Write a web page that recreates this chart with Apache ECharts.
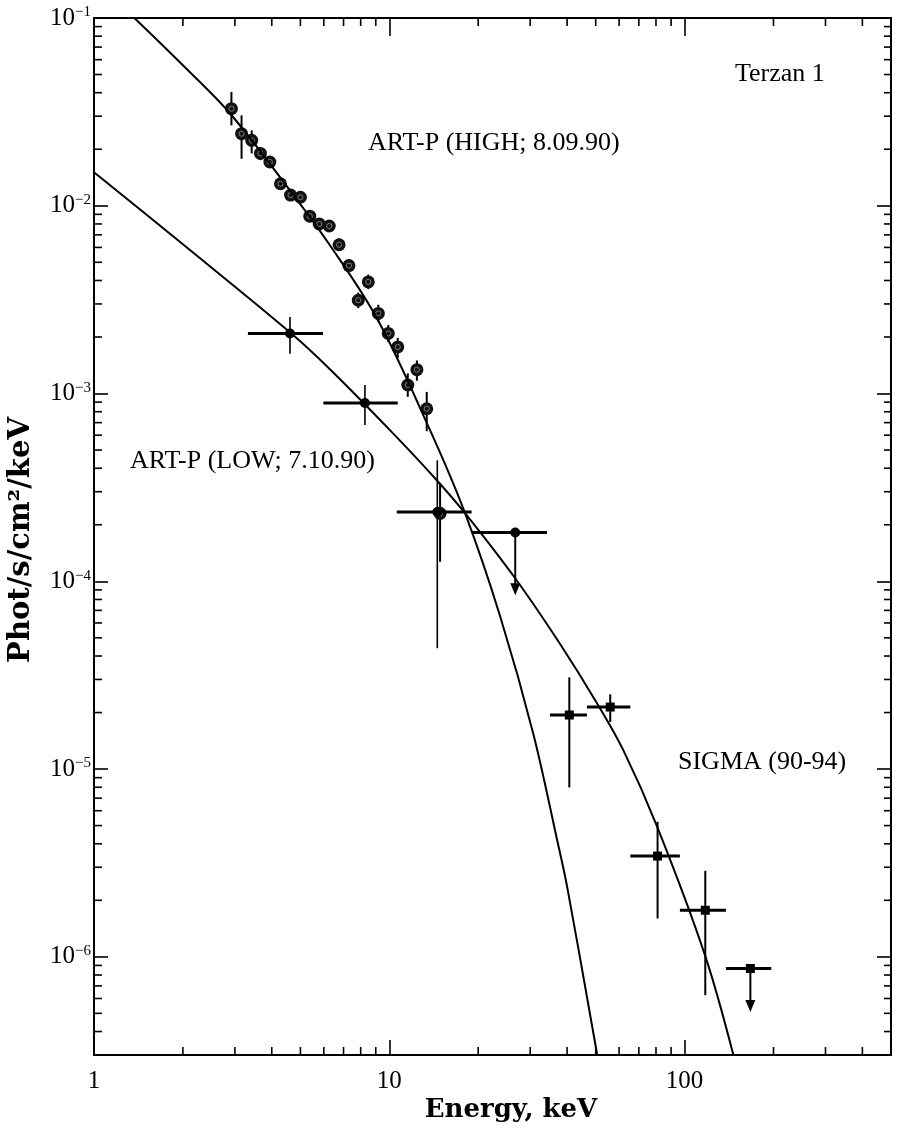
<!DOCTYPE html>
<html><head><meta charset="utf-8">
<script src="https://cdn.jsdelivr.net/npm/echarts@6/dist/echarts.min.js"></script>
<style>html,body{margin:0;padding:0;background:#fff}#c{width:900px;height:1140px}</style>
</head><body><div id="c"></div>
<script>
// ---- axis ranges ----
const xRange = [1, 500];
const yRange = [3e-7, 0.1];

// ---- ART-P HIGH (8.09.90) ----
const highE   = [2.92, 3.16, 3.42, 3.66, 3.94, 4.28, 4.63, 5.00, 5.38, 5.79, 6.26, 6.76, 7.30, 7.85, 8.49, 9.18, 9.92, 10.68, 12.4, 11.55, 13.39, 14.86];
const highF   = [0.0329, 0.0242, 0.0223, 0.0190, 0.0171, 0.0131, 0.0114, 0.0111, 0.0088, 0.0080, 0.0078, 0.0062, 0.0048, 0.00314, 0.00393, 0.00267, 0.00209, 0.00177, 0.00134, 0.00111, 0.00083, 0.00023];
const highFlo = [0.0268, 0.0178, 0.0190, 0.0175, 0.0160, 0.0123, 0.0107, 0.0104, 0.0083, 0.0075, 0.0073, 0.0058, 0.0045, 0.00285, 0.0036, 0.00240, 0.00188, 0.00155, 0.00117, 0.00096, 0.00063, 0.000127];
const highFhi = [0.0404, 0.0303, 0.0252, 0.0205, 0.0182, 0.0140, 0.0121, 0.0118, 0.0093, 0.0085, 0.0083, 0.0067, 0.0052, 0.00345, 0.0043, 0.00297, 0.00232, 0.00198, 0.00150, 0.00128, 0.00102, 0.000332];

// ---- ART-P LOW (7.10.90) ----
const lowE   = [4.61, 8.27, 14.54];
const lowF   = [0.00209, 0.00089, 0.000234];
const lowElo = [3.32, 5.98, 10.6];
const lowEhi = [5.96, 10.68, 19.0];
const lowFlo = [0.00163, 0.00068, 0.000044];
const lowFhi = [0.00256, 0.00111, 0.000441];
// upper limit: energy, flux, energy low, energy high, arrow end
const lowLimit = [26.7, 1.82e-4, 19.0, 34.2, 8.43e-5];

// ---- SIGMA (90-94) ----
const sigE   = [40.7, 56.0, 81.0, 117.5];
const sigF   = [1.94e-5, 2.14e-5, 3.44e-6, 1.77e-6];
const sigElo = [35.0, 46.7, 65.5, 96.4];
const sigEhi = [46.7, 65.5, 96.4, 138];
const sigFlo = [7.98e-6, 1.78e-5, 1.60e-6, 6.25e-7];
const sigFhi = [3.08e-5, 2.50e-5, 5.24e-6, 2.87e-6];
const sigLimit = [167, 8.67e-7, 138, 196.6, 5.08e-7];

// ---- model curves ----
const curveHighE = [1.37, 2.00, 2.884, 4.607, 6.295, 9.156, 13.74, 18.05, 23.73, 30.70, 37.03, 40.04, 50.6];
const curveHighF = [0.1, 0.0560, 0.0311, 0.01209, 0.00616, 0.002457, 6.38e-4, 2.305e-4, 6.52e-5, 1.553e-5, 4.18e-6, 2.35e-6, 3.0e-7];
const curveLowE  = [1.0, 2.0, 4.607, 6.295, 10.05, 14.48, 18.05, 26.98, 37.93, 50.5, 62.0, 80.6, 117.2, 146.3];
const curveLowF  = [0.01508, 0.006237, 0.00212, 0.001347, 6.38e-4, 3.454e-4, 2.305e-4, 1.013e-4, 4.62e-5, 2.243e-5, 1.261e-5, 4.965e-6, 1.021e-6, 3.0e-7];

// ---- labels ----
const annotations = [
  {text: 'Terzan 1', x: 735, y: 75},
  {text: 'ART-P (HIGH; 8.09.90)', x: 368, y: 144},
  {text: 'ART-P (LOW; 7.10.90)', x: 130, y: 462},
  {text: 'SIGMA (90-94)', x: 678, y: 763}
];
const xTitle = 'Energy, keV';
const yTitle = 'Phot/s/cm\u00b2/keV';

// minor tick values (2..9 per decade)
const xMinor = [], yMinor = [];
for (let d = 1; d <= 100; d *= 10) for (let m = 2; m <= 9; m++) { const v = m * d; if (v < xRange[1]) xMinor.push(v); }
for (let k = -7; k <= -2; k++) for (let m = 2; m <= 9; m++) { const v = m * Math.pow(10, k); if (v > yRange[0] && v < yRange[1]) yMinor.push(v); }

const SERIF = '"Liberation Serif", "Times New Roman", serif';
const DSERIF = '"DejaVu Serif", serif';

function pointRender(kind) {
  return function (params, api) {
    const E = api.value(0), F = api.value(1), Elo = api.value(2), Ehi = api.value(3), Flo = api.value(4), Fhi = api.value(5), lim = api.value(6);
    const c = api.coord([E, F]);
    const ch = [];
    const hw = kind === 'high' ? 0 : 3;
    if (kind !== 'high') {
      const a = api.coord([Elo, F]), b = api.coord([Ehi, F]);
      ch.push({type: 'line', shape: {x1: a[0], y1: a[1], x2: b[0], y2: b[1]}, style: {stroke: '#000', lineWidth: hw}});
    }
    if (lim) {
      const t = api.coord([E, Flo]);
      ch.push({type: 'line', shape: {x1: c[0], y1: c[1], x2: c[0], y2: t[1] - 10}, style: {stroke: '#000', lineWidth: 2}});
      ch.push({type: 'polygon', shape: {points: [[c[0] - 5, t[1] - 12], [c[0] + 5, t[1] - 12], [c[0], t[1]]]}, style: {fill: '#000'}});
    } else {
      const lo = api.coord([E, Flo]), hi = api.coord([E, Fhi]);
      const vw = kind === 'low' ? 1.6 : 2;
      ch.push({type: 'line', shape: {x1: lo[0], y1: lo[1], x2: hi[0], y2: hi[1]}, style: {stroke: '#000', lineWidth: vw}});
    }
    if (kind === 'high') {
      ch.push({type: 'circle', shape: {cx: c[0], cy: c[1], r: 6.5}, style: {fill: '#111'}});
      ch.push({type: 'circle', shape: {cx: c[0], cy: c[1], r: 2.6}, style: {fill: 'none', stroke: '#888', lineWidth: 0.9}});
    } else if (kind === 'low') {
      ch.push({type: 'circle', shape: {cx: c[0], cy: c[1], r: 5}, style: {fill: '#000'}});
    } else {
      ch.push({type: 'rect', shape: {x: c[0] - 4.5, y: c[1] - 4.5, width: 9, height: 9}, style: {fill: '#000'}});
    }
    return {type: 'group', children: ch};
  };
}

const highData = highE.map((e, i) => [e, highF[i], e, e, highFlo[i], highFhi[i], 0]);
const lowData = lowE.map((e, i) => [e, lowF[i], lowElo[i], lowEhi[i], lowFlo[i], lowFhi[i], 0]);
lowData.push([lowLimit[0], lowLimit[1], lowLimit[2], lowLimit[3], lowLimit[4], lowLimit[1], 1]);
const sigData = sigE.map((e, i) => [e, sigF[i], sigElo[i], sigEhi[i], sigFlo[i], sigFhi[i], 0]);
sigData.push([sigLimit[0], sigLimit[1], sigLimit[2], sigLimit[3], sigLimit[4], sigLimit[1], 1]);

const chart = echarts.init(document.getElementById('c'), null, {renderer: 'canvas'});

const axisLineStyle = {color: '#000', width: 2};
const tickStyle = {color: '#000', width: 1.6};

chart.setOption({
  backgroundColor: '#fff',
  animation: false,
  grid: {left: 94, right: 9, top: 18, bottom: 85, containLabel: false},
  xAxis: [
    {type: 'log', logBase: 10, min: xRange[0], max: xRange[1], position: 'bottom',
     axisLine: {lineStyle: axisLineStyle}, axisTick: {inside: true, length: 15, lineStyle: tickStyle},
     splitLine: {show: false},
     axisLabel: {showMaxLabel: false, margin: 14, color: '#000', fontFamily: SERIF, fontSize: 25,
       formatter: v => String(Math.round(v))}},
    {type: 'log', logBase: 10, min: xRange[0], max: xRange[1], position: 'top',
     axisLine: {lineStyle: axisLineStyle}, axisTick: {inside: true, length: 18, lineStyle: tickStyle},
     splitLine: {show: false}, axisLabel: {show: false}}
  ],
  yAxis: [
    {type: 'log', logBase: 10, min: yRange[0], max: yRange[1], position: 'left',
     axisLine: {lineStyle: axisLineStyle}, axisTick: {inside: true, length: 14, lineStyle: tickStyle},
     splitLine: {show: false},
     axisLabel: {showMinLabel: false, margin: 3, color: '#000',
       formatter: v => '{b|10}{s|\u2212' + (-Math.round(Math.log10(v))) + '}',
       rich: {b: {fontFamily: SERIF, fontSize: 25, color: '#000', lineHeight: 26},
              s: {fontFamily: SERIF, fontSize: 15, color: '#000', verticalAlign: 'top', lineHeight: 16}}}},
    {type: 'log', logBase: 10, min: yRange[0], max: yRange[1], position: 'right',
     axisLine: {lineStyle: axisLineStyle}, axisTick: {inside: true, length: 14, lineStyle: tickStyle},
     splitLine: {show: false}, axisLabel: {show: false}}
  ],
  graphic: [
    ...annotations.map(a => ({type: 'text', left: a.x, top: a.y - 14, style: {text: a.text, fill: '#000', font: '26px ' + SERIF}})),
    {type: 'text', x: 511, y: 1110, style: {text: xTitle, fill: '#000', font: 'bold 26px ' + DSERIF, align: 'center', verticalAlign: 'middle'}},
    {type: 'text', x: 21, y: 540, rotation: Math.PI / 2, style: {text: yTitle, fill: '#000', font: 'bold 29px ' + DSERIF, align: 'center', verticalAlign: 'middle'}}
  ],
  series: [
    {type: 'custom', name: 'xMinor', xAxisIndex: 0, yAxisIndex: 0, silent: true,
     data: xMinor.map(v => [v, yRange[0]]),
     renderItem: (p, api) => {
       const b = api.coord([api.value(0), yRange[0]]), t = api.coord([api.value(0), yRange[1]]);
       return {type: 'group', children: [
         {type: 'line', shape: {x1: b[0], y1: b[1], x2: b[0], y2: b[1] - 8}, style: {stroke: '#000', lineWidth: 1.6}},
         {type: 'line', shape: {x1: t[0], y1: t[1], x2: t[0], y2: t[1] + 8}, style: {stroke: '#000', lineWidth: 1.6}}]};
     }},
    {type: 'custom', name: 'yMinor', xAxisIndex: 0, yAxisIndex: 0, silent: true,
     data: yMinor.map(v => [xRange[0], v]),
     renderItem: (p, api) => {
       const l = api.coord([xRange[0], api.value(1)]), r = api.coord([xRange[1], api.value(1)]);
       return {type: 'group', children: [
         {type: 'line', shape: {x1: l[0], y1: l[1], x2: l[0] + 8, y2: l[1]}, style: {stroke: '#000', lineWidth: 1.6}},
         {type: 'line', shape: {x1: r[0], y1: r[1], x2: r[0] - 7, y2: r[1]}, style: {stroke: '#000', lineWidth: 1.6}}]};
     }},
    {type: 'line', name: 'model HIGH', xAxisIndex: 0, yAxisIndex: 0, showSymbol: false, smooth: 0.35,
     data: curveHighE.map((e, i) => [e, curveHighF[i]]), lineStyle: {color: '#000', width: 2}},
    {type: 'line', name: 'model LOW', xAxisIndex: 0, yAxisIndex: 0, showSymbol: false, smooth: 0.35,
     data: curveLowE.map((e, i) => [e, curveLowF[i]]), lineStyle: {color: '#000', width: 2}},
    {type: 'custom', name: 'ART-P HIGH', xAxisIndex: 0, yAxisIndex: 0, data: highData, renderItem: pointRender('high')},
    {type: 'custom', name: 'ART-P LOW', xAxisIndex: 0, yAxisIndex: 0, data: lowData, renderItem: pointRender('low')},
    {type: 'custom', name: 'SIGMA', xAxisIndex: 0, yAxisIndex: 0, data: sigData, renderItem: pointRender('sigma')}
  ]
});
</script>
</body></html>
